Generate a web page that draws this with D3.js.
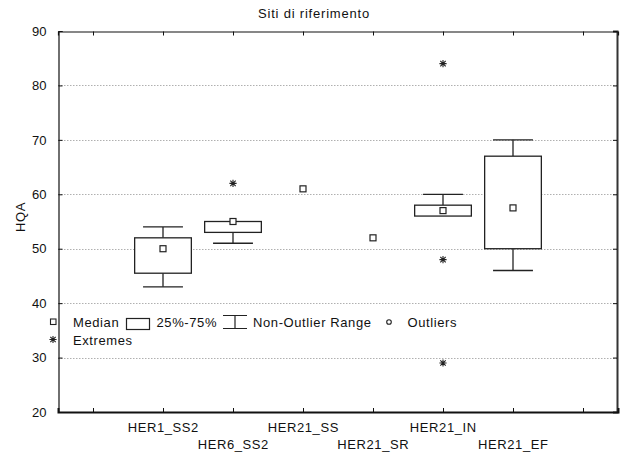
<!DOCTYPE html>
<html>
<head>
<meta charset="utf-8">
<script src="https://cdn.jsdelivr.net/npm/d3@7/dist/d3.min.js"></script>
<style>
  html, body { margin: 0; padding: 0; background: #fff; }
  svg { display: block; }
  text { font-family: "Liberation Sans", Arial, sans-serif; fill: #111; }
  .lbl { letter-spacing: 0.6px; }
</style>
</head>
<body>
<svg id="chart" width="621" height="454"></svg>
<script>
// Box-plot summary per site (HQA)
const categories   = ["HER1_SS2", "HER6_SS2", "HER21_SS", "HER21_SR", "HER21_IN", "HER21_EF"];
const medians      = [50, 55, 61, 52, 57, 57.5];
const q1           = [45.5, 53, 61, 52, 56, 50];
const q3           = [52, 55, 61, 52, 58, 67];
const whiskerLow   = [43, 51, 61, 52, 56, 46];
const whiskerHigh  = [54, 55, 61, 52, 60, 70];
const extremes     = [[], [62], [], [], [84, 48, 29], []];
const yTicks       = [20, 30, 40, 50, 60, 70, 80, 90];
const xTickPositions = [0, 1, 2, 3, 4, 5, 6, 7];

const svg = d3.select("#chart");
const plotLeft = 58, plotRight = 617, plotTop = 31, plotBottom = 412;

const x = d3.scaleLinear().domain([-0.5, 7.5]).range([plotLeft, plotRight + 1]);
const y = d3.scaleLinear().domain([20, 90]).range([plotBottom, plotTop]);

const boxHalf = 0.405;   // half box width, in category units
const capHalf = 0.285;   // half whisker-cap width

// title
svg.append("text")
  .attr("class", "lbl")
  .attr("x", 314).attr("y", 18)
  .attr("text-anchor", "middle")
  .attr("font-size", 13)
  .style("letter-spacing", "0.8px")
  .text("Siti di riferimento");

// horizontal dotted grid
svg.append("g")
  .selectAll("line")
  .data(yTicks.filter(v => v > 20 && v < 90))
  .join("line")
  .attr("x1", plotLeft).attr("x2", plotRight)
  .attr("y1", d => Math.round(y(d)) + 0.5).attr("y2", d => Math.round(y(d)) + 0.5)
  .attr("stroke", "#b0b0b0")
  .attr("stroke-width", 1)
  .attr("stroke-dasharray", "1.5,1.5");

// left axis (ticks inward)
const yAxisL = d3.axisLeft(y).tickValues(yTicks).tickSize(-4).tickPadding(12).tickFormat(d3.format("d"));
const gL = svg.append("g").attr("transform", `translate(${plotLeft + 0.5},0)`).call(yAxisL);
gL.select(".domain").attr("stroke", "#111").attr("stroke-width", 1.2);
gL.selectAll(".tick line").attr("stroke", "#111");
gL.selectAll(".tick text").attr("font-size", 13).attr("fill", "#111")
  .style("font-family", "Liberation Sans, Arial, sans-serif");

// right border with inward ticks
const yAxisR = d3.axisRight(y).tickValues(yTicks).tickSize(-4).tickFormat("");
const gR = svg.append("g").attr("transform", `translate(${plotRight},0)`).call(yAxisR);
gR.select(".domain").attr("stroke", "#333").attr("stroke-width", 2);
gR.selectAll(".tick line").attr("stroke", "#111");

// top border with inward ticks
const xAxisT = d3.axisTop(x).tickValues(xTickPositions).tickSize(-4).tickFormat("");
const gT = svg.append("g").attr("transform", `translate(0,${plotTop + 0.5})`).call(xAxisT);
gT.select(".domain").attr("stroke", "#111").attr("stroke-width", 1.2);
gT.selectAll(".tick line").attr("stroke", "#111");

// bottom axis with inward ticks
const xAxisB = d3.axisBottom(x).tickValues(xTickPositions).tickSize(-4).tickFormat("");
const gB = svg.append("g").attr("transform", `translate(0,${plotBottom})`).call(xAxisB);
gB.select(".domain").attr("stroke", "#111").attr("stroke-width", 2);
gB.selectAll(".tick line").attr("stroke", "#111");

// staggered category labels
svg.append("g")
  .selectAll("text")
  .data(categories)
  .join("text")
  .attr("class", "lbl")
  .attr("x", (d, i) => x(i + 1) + 0.3)
  .attr("y", (d, i) => i % 2 === 0 ? 431.5 : 449)
  .attr("text-anchor", "middle")
  .attr("font-size", 13)
  .text(d => d);

// y axis title
svg.append("text")
  .attr("class", "lbl")
  .attr("transform", "translate(25,217) rotate(-90)")
  .attr("text-anchor", "middle")
  .attr("font-size", 13)
  .text("HQA");

// asterisk glyph for extremes
function asteriskPath(cx, cy, r) {
  const d = r * 0.75;
  return `M${cx - r},${cy}H${cx + r}M${cx},${cy - r}V${cy + r}` +
         `M${cx - d},${cy - d}L${cx + d},${cy + d}M${cx - d},${cy + d}L${cx + d},${cy - d}`;
}

const stroke = "#222";
const boxes = svg.append("g");
categories.forEach((c, i) => {
  const cx = x(i + 1);
  const bw = x(boxHalf) - x(0);
  const cw = x(capHalf) - x(0);
  const g = boxes.append("g");
  // whiskers
  if (whiskerHigh[i] > q3[i]) {
    g.append("line").attr("x1", cx).attr("x2", cx).attr("y1", y(q3[i])).attr("y2", y(whiskerHigh[i]))
      .attr("stroke", stroke).attr("stroke-width", 1.3);
    g.append("line").attr("x1", cx - cw).attr("x2", cx + cw).attr("y1", y(whiskerHigh[i])).attr("y2", y(whiskerHigh[i]))
      .attr("stroke", stroke).attr("stroke-width", 1.3);
  }
  if (whiskerLow[i] < q1[i]) {
    g.append("line").attr("x1", cx).attr("x2", cx).attr("y1", y(q1[i])).attr("y2", y(whiskerLow[i]))
      .attr("stroke", stroke).attr("stroke-width", 1.3);
    g.append("line").attr("x1", cx - cw).attr("x2", cx + cw).attr("y1", y(whiskerLow[i])).attr("y2", y(whiskerLow[i]))
      .attr("stroke", stroke).attr("stroke-width", 1.3);
  }
  // box
  if (q3[i] > q1[i]) {
    g.append("rect")
      .attr("x", cx - bw).attr("width", 2 * bw)
      .attr("y", y(q3[i])).attr("height", y(q1[i]) - y(q3[i]))
      .attr("fill", "#fff").attr("stroke", stroke).attr("stroke-width", 1.3);
  }
  // median marker
  g.append("rect")
    .attr("x", cx - 3).attr("y", y(medians[i]) - 3)
    .attr("width", 6).attr("height", 6)
    .attr("fill", "#fff").attr("stroke", stroke).attr("stroke-width", 1.2);
  // extremes
  extremes[i].forEach(v => {
    g.append("path").attr("d", asteriskPath(cx, y(v), 3.6))
      .attr("stroke", stroke).attr("stroke-width", 1.1).attr("fill", "none");
  });
});

// legend
const lg = svg.append("g");
lg.append("rect").attr("x", 50.5).attr("y", 319).attr("width", 5.5).attr("height", 5.5)
  .attr("fill", "#fff").attr("stroke", stroke).attr("stroke-width", 1.1);
lg.append("text").attr("class", "lbl").attr("x", 73).attr("y", 326.5).attr("font-size", 13).text("Median");
lg.append("rect").attr("x", 126.5).attr("y", 318.5).attr("width", 23).attr("height", 11)
  .attr("fill", "#fff").attr("stroke", stroke).attr("stroke-width", 1.2);
lg.append("text").attr("class", "lbl").attr("x", 156.5).attr("y", 326.5).attr("font-size", 13).text("25%-75%");
lg.append("path").attr("d", "M223,315.5H247M235,315.5V328.5M223,328.5H247")
  .attr("stroke", stroke).attr("stroke-width", 1.2).attr("fill", "none");
lg.append("text").attr("class", "lbl").attr("x", 253).attr("y", 326.5).attr("font-size", 13).text("Non-Outlier Range");
lg.append("circle").attr("cx", 389).attr("cy", 322).attr("r", 2.3)
  .attr("fill", "#fff").attr("stroke", stroke).attr("stroke-width", 1.1);
lg.append("text").attr("class", "lbl").attr("x", 407.5).attr("y", 326.5).attr("font-size", 13).text("Outliers");
lg.append("path").attr("d", asteriskPath(53, 339.5, 3.6))
  .attr("stroke", stroke).attr("stroke-width", 1.1).attr("fill", "none");
lg.append("text").attr("class", "lbl").attr("x", 73).attr("y", 344.5).attr("font-size", 13).text("Extremes");
</script>
</body>
</html>
